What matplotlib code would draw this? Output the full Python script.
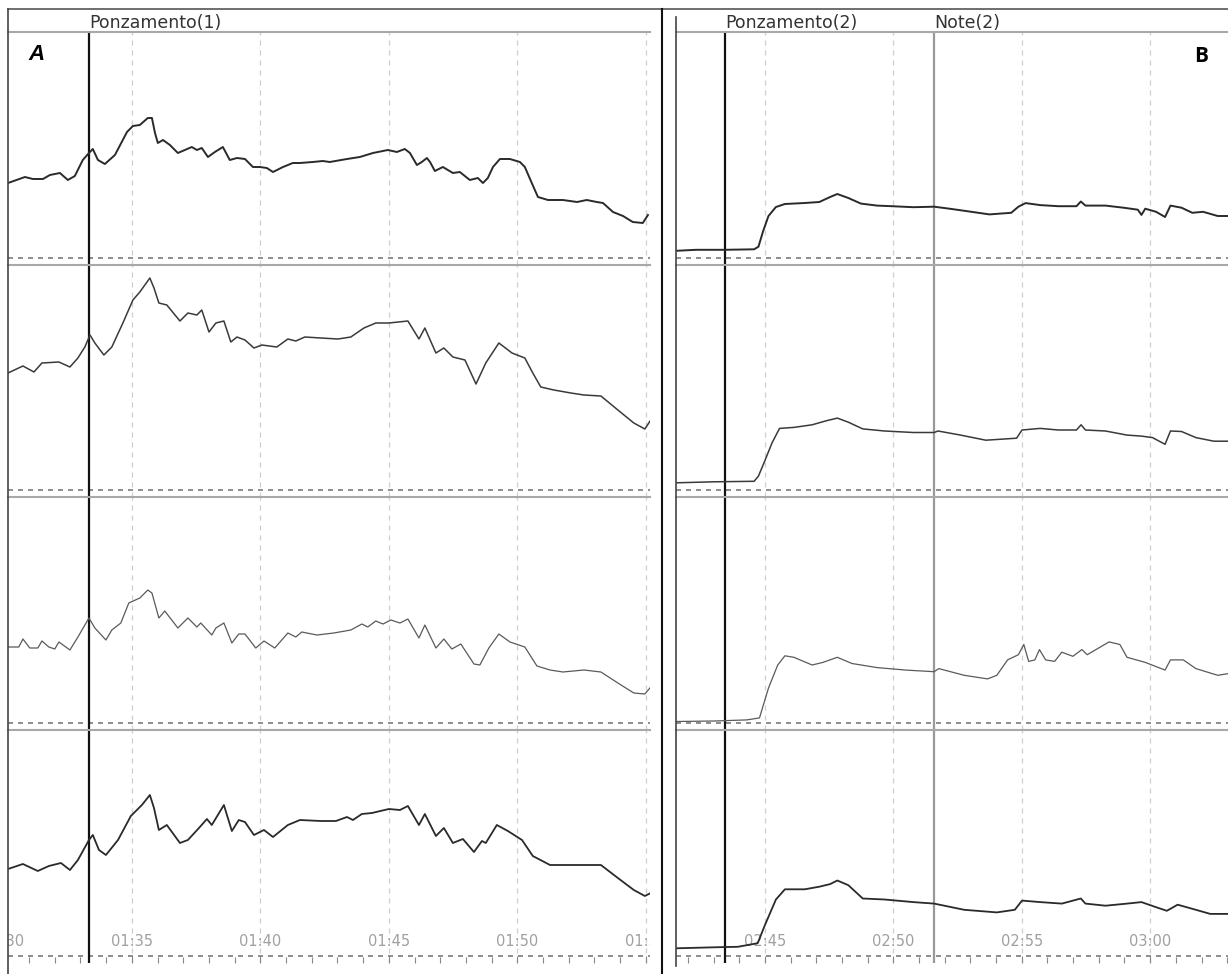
import matplotlib
matplotlib.use("Agg")
import matplotlib.pyplot as plt
from matplotlib.lines import Line2D
from matplotlib.ticker import MultipleLocator

# recording A: time in s (01:30 = 90), values in screen units above channel baseline
a1_t = [90.18, 90.84, 91.15, 91.54, 91.81, 92.20, 92.51, 92.78, 93.09, 93.33, 93.48, 93.68, 93.95, 94.34,
        94.81, 95.04, 95.31, 95.62, 95.78, 95.90, 96.01, 96.21, 96.48, 96.79, 97.06, 97.33, 97.53, 97.72,
        97.96, 98.23, 98.54, 98.81, 99.09, 99.40, 99.71, 99.98, 100.25, 100.49, 100.88, 101.26, 101.54,
        102.04, 102.43, 102.70, 103.37, 103.87, 104.38, 104.96, 105.31, 105.62, 105.82, 106.09, 106.28,
        106.48, 106.60, 106.79, 107.10, 107.49, 107.76, 108.15, 108.46, 108.66, 108.85, 109.05, 109.32,
        109.71, 110.10, 110.29, 110.56, 110.80, 111.19, 111.77, 112.32, 112.70, 113.09, 113.33, 113.72,
        114.11, 114.49, 114.88, 115.08]
a1_v = [75, 81, 79, 79, 83, 85, 78, 82, 98, 105, 109, 98, 94, 103,
        126, 132, 133, 140, 140, 125, 115, 118, 113, 105, 108, 111, 108, 110,
        101, 106, 111, 98, 100, 99, 91, 91, 90, 86, 91, 95, 95,
        96, 97, 96, 99, 101, 105, 108, 106, 109, 105, 93, 96,
        100, 96, 87, 91, 85, 86, 78, 80, 75, 80, 91, 99,
        99, 96, 91, 75, 61, 58, 58, 56, 58, 56, 55, 46,
        42, 36, 35, 43]

a2_t = [90.18, 90.76, 91.19, 91.50, 92.16, 92.59, 92.90, 93.17, 93.37, 93.56,
        93.91, 94.22, 94.65, 95.04, 95.31, 95.70, 95.86, 96.05, 96.36, 96.87,
        97.18, 97.53, 97.72, 98.00, 98.27, 98.58, 98.85, 99.09, 99.40, 99.75,
        100.06, 100.64, 101.07, 101.38, 101.73, 102.35, 103.02, 103.52, 104.03, 104.49,
        105.00, 105.74, 106.17, 106.40, 106.83, 107.14, 107.49, 107.96, 108.39, 108.77,
        109.28, 109.79, 110.29, 110.60, 110.91, 111.42, 112.08, 112.59, 113.25, 113.91,
        114.53, 114.96, 115.19]
a2_v = [117, 124, 118, 127, 128, 123, 132, 143, 155, 147,
        135, 143, 167, 190, 198, 212, 202, 187, 185, 169,
        177, 175, 180, 158, 167, 169, 148, 153, 150, 142,
        145, 143, 151, 149, 153, 152, 151, 153, 162, 167,
        167, 169, 151, 162, 137, 142, 133, 130, 106, 127,
        147, 137, 132, 117, 103, 100, 97, 95, 94, 80,
        67, 61, 70]

a3_t = [90.18, 90.60, 90.76, 91.03, 91.34, 91.50, 91.77, 92.00, 92.16, 92.59,
        92.90, 93.33, 93.56, 93.99, 94.22, 94.57, 94.88, 95.31, 95.62, 95.78,
        96.05, 96.28, 96.79, 97.18, 97.53, 97.68, 98.11, 98.27, 98.58, 98.89,
        99.16, 99.40, 99.82, 100.14, 100.56, 101.07, 101.38, 101.61, 102.20, 102.86,
        103.52, 103.95, 104.18, 104.49, 104.77, 105.08, 105.43, 105.74, 106.17, 106.40,
        106.83, 107.14, 107.45, 107.80, 108.31, 108.54, 108.89, 109.28, 109.71, 110.29,
        110.76, 111.27, 111.77, 112.59, 113.25, 113.91, 114.53, 114.96, 115.19]
a3_v = [76, 76, 84, 75, 75, 82, 76, 74, 81, 73,
        86, 105, 95, 83, 93, 100, 120, 125, 133, 130,
        105, 112, 95, 105, 96, 100, 88, 95, 100, 80,
        89, 89, 75, 82, 75, 90, 86, 91, 88, 90,
        93, 99, 96, 102, 99, 103, 100, 104, 85, 98,
        75, 84, 74, 79, 59, 58, 75, 89, 81, 76,
        57, 53, 51, 53, 51, 40, 30, 29, 36]

a4_t = [90.18, 90.76, 91.34, 91.77, 92.24, 92.59, 92.90, 93.33, 93.48, 93.72,
        93.99, 94.46, 94.96, 95.39, 95.70, 95.86, 96.05, 96.36, 96.87, 97.18,
        97.61, 97.92, 98.11, 98.58, 98.89, 99.16, 99.40, 99.75, 100.14, 100.49,
        101.07, 101.54, 102.35, 102.94, 103.37, 103.60, 103.95, 104.34, 105.00, 105.43,
        105.74, 106.17, 106.40, 106.83, 107.14, 107.49, 107.88, 108.31, 108.62, 108.77,
        109.20, 109.63, 110.18, 110.60, 111.27, 111.93, 112.59, 113.25, 113.91, 114.53,
        114.96, 115.19]
a4_v = [87, 92, 85, 90, 93, 86, 96, 116, 121, 106,
        101, 116, 140, 151, 161, 148, 126, 131, 113, 116,
        128, 137, 131, 151, 125, 136, 134, 121, 126, 119,
        131, 136, 135, 135, 139, 136, 142, 143, 147, 146,
        150, 131, 142, 120, 128, 113, 117, 104, 115, 113,
        131, 125, 116, 100, 91, 91, 91, 91, 78, 66,
        60, 63]

# recording B
b1_t = [161.55, 162.32, 163.45, 164.58, 164.75, 164.93, 165.14, 165.43, 165.78, 166.55, 167.12,
        167.54, 167.82, 168.25, 168.74, 169.37, 169.94, 170.78, 171.59, 172.19, 173.04, 173.74,
        174.59, 174.87, 175.15, 175.72, 176.42, 177.13, 177.30, 177.48, 178.26, 178.96, 179.52,
        179.66, 179.81, 180.23, 180.58, 180.79, 181.22, 181.64, 182.06, 182.63, 183.02]
b1_v = [7.2, 8.2, 8.2, 8.7, 11.3, 26.7, 42.0, 51.0, 54.0, 55.0, 56.0,
        61.0, 64.0, 60.0, 54.4, 52.4, 51.8, 50.8, 51.3, 49.3, 46.2, 43.6,
        45.2, 51.3, 54.9, 52.9, 51.8, 51.8, 56.5, 52.4, 52.4, 50.3, 48.3,
        43.1, 49.3, 46.2, 41.0, 52.4, 50.3, 45.2, 46.2, 42.0, 42.0]

b2_t = [161.55, 163.03, 164.58, 164.75, 165.00, 165.28, 165.57, 166.13, 166.84, 167.40, 167.82,
        168.25, 168.81, 169.66, 170.78, 171.59, 171.74, 172.62, 173.60, 174.80, 175.01, 175.72,
        176.42, 177.13, 177.31, 177.48, 178.26, 179.10, 179.66, 180.09, 180.58, 180.79, 181.22,
        181.78, 182.48, 183.02]
b2_v = [7.2, 8.2, 8.7, 13.9, 29.3, 47.2, 61.6, 62.6, 65.2, 69.3, 71.9,
        67.8, 61.1, 59.0, 57.5, 57.5, 59.0, 54.9, 49.8, 51.8, 60.0, 61.6,
        60.0, 60.0, 65.2, 60.0, 59.0, 54.9, 53.9, 52.4, 45.7, 59.0, 58.5,
        52.4, 48.8, 48.8]

b3_t = [161.55, 163.03, 164.30, 164.79, 165.14, 165.50, 165.78, 166.13, 166.84, 167.26, 167.82,
        168.39, 169.37, 170.50, 171.59, 171.77, 172.76, 173.67, 174.03, 174.45, 174.87, 175.08,
        175.27, 175.51, 175.69, 175.93, 176.28, 176.56, 176.99, 177.34, 177.55, 178.40, 178.82,
        179.10, 179.81, 180.58, 180.79, 181.29, 181.78, 182.63, 183.02]
b3_v = [1.5, 2.0, 3.1, 5.1, 34.9, 58.0, 67.2, 65.7, 58.0, 60.6, 65.7,
        59.5, 55.4, 52.9, 51.3, 54.4, 47.7, 44.1, 47.7, 63.1, 68.3, 78.5,
        61.6, 63.1, 73.4, 63.1, 61.6, 70.8, 66.7, 73.4, 68.3, 81.1, 78.5,
        65.7, 60.6, 52.9, 63.1, 63.1, 54.4, 47.7, 49.3]

b4_t = [161.55, 163.03, 163.95, 164.72, 165.00, 165.43, 165.78, 166.55, 167.12, 167.54, 167.82,
        168.25, 168.81, 169.66, 170.78, 171.59, 172.76, 174.03, 174.73, 175.01, 175.72, 176.56,
        177.30, 177.48, 178.26, 179.10, 179.66, 180.23, 180.65, 181.07, 181.64, 182.34, 183.02]
b4_v = [7.7, 8.7, 9.2, 12.8, 30.8, 56.5, 66.7, 66.7, 69.3, 71.9, 75.5,
        70.8, 57.5, 56.5, 53.9, 52.4, 46.2, 43.6, 46.2, 55.4, 53.9, 52.4,
        57.5, 52.4, 50.3, 52.4, 53.9, 48.8, 45.2, 51.3, 47.2, 42.1, 42.1]

# markers: (time, header text, colour)
a_marks = [(93.33, "Ponzamento(1)", "#111111")]
b_marks = [(163.46, "Ponzamento(2)", "#111111"), (171.58, "Note(2)", "#999999")]

W, H = 1228, 974
fig = plt.figure(figsize=(W / 100, H / 100), dpi=100)

strip_top = [32, 265, 497, 730]
strip_bot = [265, 497, 730, 963]
base_off = 7
trace_style = [("#2a2a2a", 1.4), ("#3a3a3a", 1.1), ("#5a5a5a", 0.9), ("#2a2a2a", 1.3)]


def mmss(s):
    return f"{int(s) // 60:02d}:{int(s) % 60:02d}"


def panel(x0, x1, t0, t1, traces, marks):
    n = len(traces)
    for i, (t, v) in enumerate(traces):
        top, bot = strip_top[i], strip_bot[i]
        ax = fig.add_axes([x0 / W, 1 - bot / H, (x1 - x0) / W, (bot - top) / H])
        ax.set_xlim(t0, t1)
        ax.set_ylim(-base_off, bot - top - base_off)
        ax.set_yticks([])
        for s in ["left", "right", "bottom"]:
            ax.spines[s].set_visible(False)
        ax.spines["top"].set_color("#a8a8a8")
        ax.spines["top"].set_linewidth(1.5)
        ax.xaxis.set_major_locator(MultipleLocator(5))
        ax.set_axisbelow(True)
        ax.grid(axis="x", which="major", color="#cfcfcf", linestyle=(0, (4, 4)), linewidth=0.9)
        ax.axhline(0, color="#7a7a7a", linestyle=(0, (3, 3)), linewidth=1.2, zorder=1)
        for mt, _, mc in marks:
            ax.axvline(mt, color=mc, linewidth=1.6, zorder=2)
        col, lw = trace_style[i]
        ax.plot(t, v, color=col, linewidth=lw, zorder=3)
        if i == n - 1:
            ax.xaxis.set_minor_locator(MultipleLocator(1))
            ax.tick_params(axis="x", which="both", direction="in", color="#888888",
                           width=0.8, labelbottom=False, top=False)
            ax.tick_params(axis="x", which="major", length=5)
            ax.tick_params(axis="x", which="minor", length=4)
            # time labels sit inside the strip; only those at least partly visible
            s = int(t0) // 5 * 5
            while s <= t1 + 1:
                if s >= t0 - 0.75:
                    txt = ax.text(s, 15, mmss(s), ha="center", va="center", fontsize=10.5,
                                  color="#a0a0a0", clip_on=True, zorder=2)
                    txt.set_clip_path(ax.patch)
                s += 5
        else:
            ax.tick_params(axis="x", which="both", bottom=False, top=False, labelbottom=False)
        if i == 0:
            for mt, label, _ in marks:
                ax.text(mt, 1.0, label, transform=ax.get_xaxis_transform(), ha="left",
                        va="bottom", fontsize=12.5, color="#333333")


panel(8, 650, 90.18, 115.16, [(a1_t, a1_v), (a2_t, a2_v), (a3_t, a3_v), (a4_t, a4_v)], a_marks)
panel(676, 1228, 161.54, 183.03, [(b1_t, b1_v), (b2_t, b2_v), (b3_t, b3_v), (b4_t, b4_v)], b_marks)


def fline(xs, ys, color, lw):
    fig.add_artist(Line2D([x / W for x in xs], [1 - y / H for y in ys],
                          transform=fig.transFigure, color=color, linewidth=lw))


fline([8, 1228], [9, 9], "#555555", 1.2)
fline([8, 8], [9, 974], "#444444", 1.2)
fline([662, 662], [9, 974], "#111111", 1.5)
fline([676, 676], [17, 966], "#444444", 1.2)

fig.text(37 / W, 1 - 55 / H, "A", fontsize=16, fontweight="bold", fontstyle="italic",
         family="Liberation Sans", ha="center", va="center")
fig.text(1201 / W, 1 - 57 / H, "B", fontsize=15, fontweight="bold",
         family="Open Sans", ha="center", va="center")

fig.savefig("out.png", dpi=100)
